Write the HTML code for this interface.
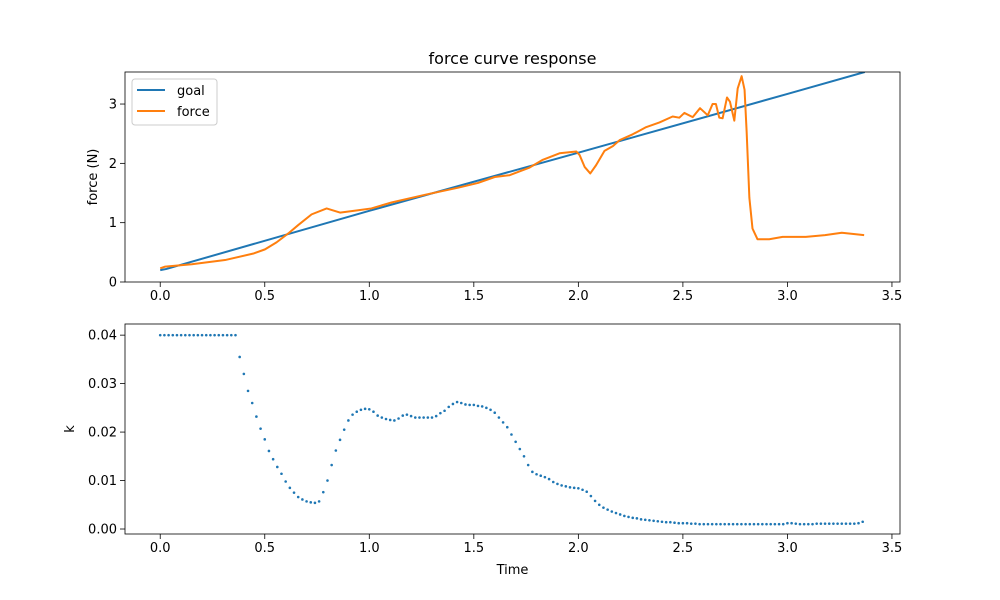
<!DOCTYPE html>
<html><head><meta charset="utf-8"><style>
html,body{margin:0;padding:0;background:#fff}
svg{display:block;font-family:"DejaVu Sans","Liberation Sans",sans-serif}
</style></head><body>
<svg id="fig" width="1000" height="600" viewBox="0 0 1000 600" xmlns="http://www.w3.org/2000/svg"></svg>
<script>
// ---- data ----
const goalTimes = [0, 0.03, 1.0, 2.0, 3.0, 3.37];
const goalValues = [0.2, 0.22, 1.20, 2.18, 3.17, 3.54];
const forceTimes = [0,0.024,0.151,0.31,0.446,0.501,0.557,0.613,0.66,0.724,0.796,0.86,0.947,1.01,1.106,1.266,1.425,1.52,1.6,1.671,1.767,1.83,1.91,1.99,2.006,2.03,2.057,2.085,2.125,2.165,2.197,2.26,2.324,2.388,2.451,2.483,2.507,2.547,2.582,2.619,2.642,2.658,2.674,2.69,2.711,2.725,2.746,2.762,2.781,2.795,2.805,2.818,2.833,2.857,2.913,2.977,3.088,3.18,3.26,3.367];
const forceValues = [0.23,0.26,0.30,0.37,0.48,0.55,0.67,0.82,0.96,1.14,1.24,1.17,1.21,1.24,1.34,1.47,1.59,1.67,1.77,1.80,1.93,2.06,2.17,2.20,2.14,1.94,1.83,1.97,2.21,2.29,2.39,2.49,2.61,2.69,2.79,2.77,2.85,2.78,2.93,2.81,3.0,3.0,2.77,2.76,3.11,3.04,2.72,3.26,3.47,3.24,2.53,1.42,0.90,0.72,0.72,0.76,0.76,0.79,0.83,0.79];
const kStep = 0.02;
const kValues = [0.04,0.04,0.04,0.04,0.04,0.04,0.04,0.04,0.04,0.04,0.04,0.04,0.04,0.04,0.04,0.04,0.04,0.04,0.04,
0.0355,0.032,0.0285,0.026,0.0232,0.0207,0.0185,0.0161,0.0144,0.0128,0.0114,0.0098,0.0085,0.0075,0.0066,0.0061,0.0057,0.0055,0.0054,0.0057,0.0076,
0.0100,0.0132,0.0162,0.0184,0.0205,0.0224,0.0236,0.0242,0.0246,0.0248,0.0247,0.0242,0.0234,0.0230,0.0227,0.0225,0.0224,0.0228,0.0234,0.0236,
0.0233,0.0230,0.0230,0.0230,0.0230,0.0230,0.0233,0.0239,0.0244,0.0252,0.0258,0.0262,0.0260,0.0257,0.0256,0.0256,0.0254,0.0253,0.0250,0.0246,
0.0240,0.0230,0.0220,0.0210,0.0195,0.0180,0.0165,0.0150,0.0132,0.0118,0.0113,0.0110,0.0107,0.0103,0.0097,0.0093,0.0090,0.0088,0.0086,0.0085,
0.0084,0.0081,0.0077,0.0068,0.0058,0.0050,0.0044,0.0040,0.0036,0.0033,0.0030,0.0027,0.0025,0.0023,0.0022,0.0020,0.0019,0.0018,0.0017,0.0016,
0.0015,0.0014,0.0014,0.0013,0.0012,0.0012,0.0012,0.0011,0.0011,
0.0010,0.0010,0.0010,0.0010,0.0010,0.0010,0.0010,0.0010,0.0010,0.0010,0.0010,0.0010,0.0010,0.0010,0.0010,0.0010,0.0010,0.0010,0.0010,0.0010,0.0010,
0.0012,0.0012,0.0011,0.0010,0.0010,0.0010,0.0010,
0.0011,0.0011,0.0011,0.0011,0.0011,0.0011,0.0011,0.0011,0.0011,0.0011,0.0012,0.0015];
const xTicks = [0.0,0.5,1.0,1.5,2.0,2.5,3.0,3.5];
const xTickLabels = ["0.0","0.5","1.0","1.5","2.0","2.5","3.0","3.5"];
const topYTicks = [0,1,2,3];
const topYTickLabels = ["0","1","2","3"];
const botYTicks = [0,0.01,0.02,0.03,0.04];
const botYTickLabels = ["0.00","0.01","0.02","0.03","0.04"];

// ---- layout ----
const L=125,R=900,T1=72,B1=282,T2=324,B2=534;
const xMin=-0.1685,xMax=3.5385;
const sx=t=>L+(t-xMin)/(xMax-xMin)*(R-L);
const y1Min=0,y1Max=3.54;
const sy1=v=>B1-(v-y1Min)/(y1Max-y1Min)*(B1-T1);
const y2Min=-0.00103,y2Max=0.0423;
const sy2=v=>B2-(v-y2Min)/(y2Max-y2Min)*(B2-T2);

const NS="http://www.w3.org/2000/svg";
const svg=document.getElementById('fig');
function mk(tag,attrs,parent){const e=document.createElementNS(NS,tag);for(const k in attrs)e.setAttribute(k,attrs[k]);(parent||svg).appendChild(e);return e;}

function axes(T,B,sy,yt,ytl,prefix){
  const g=mk('g',{});
  
  
  xTicks.forEach((t,i)=>{
    const x=sx(t);
    const tk=mk('line',{x1:x,x2:x,y1:B,y2:B+5,stroke:'#000','stroke-width':0.8},g);
    
    
    const tl=mk('text',{x:x,y:B+18,'text-anchor':'middle','font-size':13,fill:'#000'},g);
    tl.textContent=xTickLabels[i];
    
    
  });
  yt.forEach((v,i)=>{
    const y=sy(v);
    const tk=mk('line',{x1:L-5,x2:L,y1:y,y2:y,stroke:'#000','stroke-width':0.8},g);
    
    
    const tl=mk('text',{x:L-8,y:y+4.5,'text-anchor':'end','font-size':13,fill:'#000'},g);
    tl.textContent=ytl[i];
    
    
  });
  return g;
}
function frame(T,B,prefix){
  const f=mk('rect',{x:L,y:T,width:R-L,height:B-T,fill:'none',stroke:'#000','stroke-width':0.8});
  
  
}

// clip paths
const defs=mk('defs',{});
const c1=mk('clipPath',{id:'c1'},defs);mk('rect',{x:L,y:T1,width:R-L,height:B1-T1},c1);
const c2=mk('clipPath',{id:'c2'},defs);mk('rect',{x:L,y:T2,width:R-L,height:B2-T2},c2);

// top
axes(T1,B1,sy1,topYTicks,topYTickLabels,'top');
const goal=mk('polyline',{points:goalTimes.map((t,i)=>sx(t)+','+sy1(goalValues[i])).join(' '),fill:'none',stroke:'#1f77b4','stroke-width':2,'clip-path':'url(#c1)'});


const force=mk('polyline',{points:forceTimes.map((t,i)=>sx(t)+','+sy1(forceValues[i])).join(' '),fill:'none',stroke:'#ff7f0e','stroke-width':2,'stroke-linejoin':'round','clip-path':'url(#c1)'});


frame(T1,B1,'top');

// bottom
axes(T2,B2,sy2,botYTicks,botYTickLabels,'bottom');
const kg=mk('g',{fill:'#1f77b4','clip-path':'url(#c2)'});


kValues.forEach((v,i)=>{
  const c=mk('circle',{cx:sx(i*kStep),cy:sy2(v),r:1.3},kg);
  
  
});
frame(T2,B2,'bottom');

// titles and labels
const title=mk('text',{x:(L+R)/2,y:64,'text-anchor':'middle','font-size':16,fill:'#000'});
title.textContent='force curve response';


const yl1=mk('text',{x:0,y:0,'text-anchor':'middle','font-size':13,fill:'#000',transform:'translate(97,'+((T1+B1)/2)+') rotate(-90)'});
yl1.textContent='force (N)';


const yl2=mk('text',{x:0,y:0,'text-anchor':'middle','font-size':13,fill:'#000',transform:'translate(74,'+((T2+B2)/2)+') rotate(-90)'});
yl2.textContent='k';


const xl=mk('text',{x:(L+R)/2,y:574,'text-anchor':'middle','font-size':13,fill:'#000'});
xl.textContent='Time';



// legend
const lg=mk('g',{});


mk('rect',{x:132,y:79,width:85,height:46,rx:3,fill:'#fff','fill-opacity':0.8,stroke:'#ccc','stroke-width':1},lg);
const e1=mk('g',{},lg);


mk('line',{x1:137,x2:165,y1:90,y2:90,stroke:'#1f77b4','stroke-width':2},e1);
const t1=mk('text',{x:177,y:95,'font-size':13,fill:'#000'},e1);t1.textContent='goal';
const e2=mk('g',{},lg);


mk('line',{x1:137,x2:165,y1:111,y2:111,stroke:'#ff7f0e','stroke-width':2},e2);
const t2=mk('text',{x:177,y:116,'font-size':13,fill:'#000'},e2);t2.textContent='force';
</script>
</body></html>
